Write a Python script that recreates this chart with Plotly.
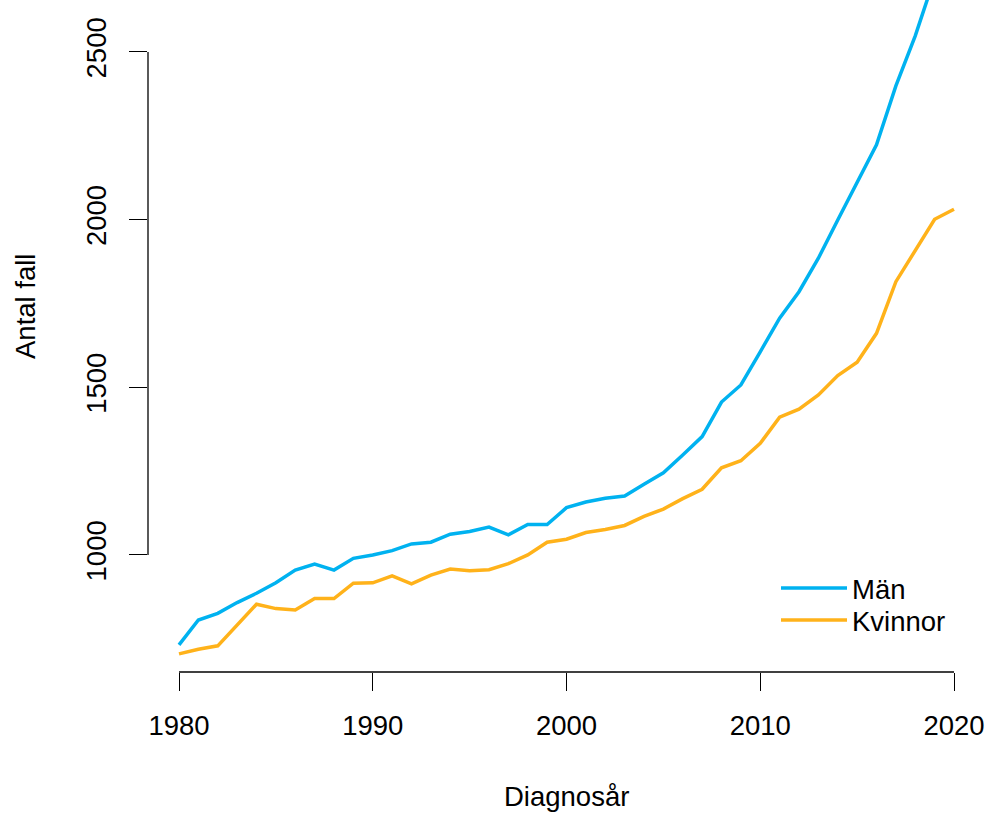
import plotly.graph_objects as go

years = list(range(1980, 2021))
man = [732, 806, 826, 858, 886, 917, 955, 973, 955, 990,
       1000, 1013, 1033, 1038, 1062, 1070, 1083, 1060, 1091, 1091,
       1141, 1158, 1169, 1176, 1211, 1245, 1298, 1353, 1456, 1507,
       1606, 1706, 1785, 1885, 1999, 2111, 2223, 2399, 2548, 2722, 2870]
kvinnor = [705, 719, 729, 791, 853, 840, 836, 870, 870, 916,
           917, 938, 914, 940, 958, 953, 956, 974, 1000, 1038,
           1047, 1067, 1076, 1088, 1115, 1137, 1168, 1196, 1260, 1281,
           1333, 1411, 1435, 1477, 1535, 1575, 1661, 1815, 1907, 2001, 2031]
series_names = ["Män", "Kvinnor"]
colors = ["#00B2F0", "#FFB21A"]
x_ticks = [1980, 1990, 2000, 2010, 2020]
y_ticks = [1000, 1500, 2000, 2500]

FONT = "Liberation Sans, Arial, Helvetica, sans-serif"
FS = 27.5
PW, PH = 837, 672  # plot area size in px

legend_ids = ["legend", "legend2"]
legend_centers = [588, 620]  # px from top

fig = go.Figure()
for name, vals, col, lid in zip(series_names, [man, kvinnor], colors, legend_ids):
    fig.add_trace(go.Scatter(x=years, y=vals, mode="lines", name=name,
                             legend=lid, line=dict(color=col, width=3.5)))

leg_common = dict(xanchor="left", yanchor="middle", bgcolor="rgba(0,0,0,0)",
                  font=dict(size=FS), itemwidth=66)

fig.update_layout(
    width=991, height=813,
    margin=dict(l=148, r=6, t=0, b=141),
    paper_bgcolor="white", plot_bgcolor="white",
    font=dict(family=FONT, size=FS, color="black"),
    showlegend=True,
    legend=dict(x=(776 - 148) / PW, y=1 - legend_centers[0] / PH, **leg_common),
    legend2=dict(x=(776 - 148) / PW, y=1 - legend_centers[1] / PH, **leg_common),
    xaxis=dict(range=[1978.4, 2021.6], tickvals=x_ticks, ticks="outside",
               ticklen=18, tickwidth=1.3, tickcolor="black", showgrid=False,
               zeroline=False, showline=False, ticklabelstandoff=11),
    yaxis=dict(range=[651, 2655], tickvals=y_ticks, ticks="outside",
               ticklen=18, tickwidth=1.3, tickcolor="black", showgrid=False,
               zeroline=False, showline=False, tickangle=-90, ticklabelstandoff=12),
)

# axis lines spanning first to last tick (R style)
fig.add_shape(type="line", xref="x", yref="paper", x0=x_ticks[0], x1=x_ticks[-1],
              y0=0, y1=0, line=dict(color="black", width=1.3))
fig.add_shape(type="line", xref="paper", yref="y", x0=0, x1=0,
              y0=y_ticks[0], y1=y_ticks[-1], line=dict(color="black", width=1.3))

fig.add_annotation(text="Diagnosår", xref="paper", yref="paper", x=0.5,
                   y=-(796 - 672) / PH, showarrow=False, font=dict(size=FS),
                   yanchor="middle", xanchor="center")
fig.add_annotation(text="Antal fall", xref="paper", yref="paper",
                   x=(25 - 148) / PW, y=1 - 307 / PH, showarrow=False, font=dict(size=FS),
                   textangle=-90, xanchor="center", yanchor="middle")

fig.write_html("out.html")
